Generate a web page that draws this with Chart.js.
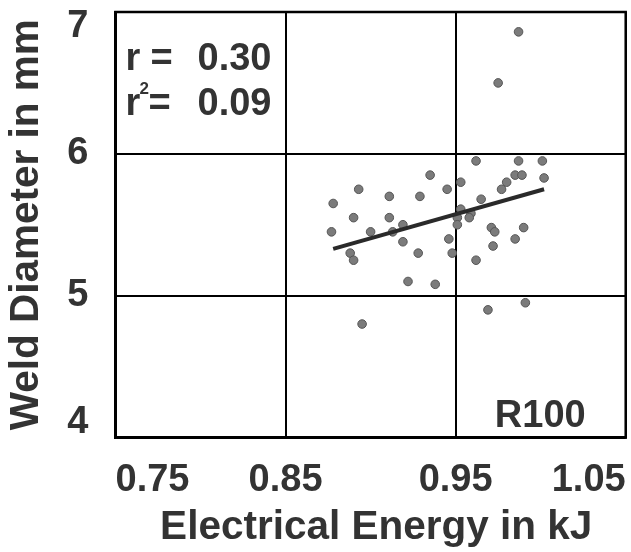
<!DOCTYPE html>
<html>
<head>
<meta charset="utf-8">
<script src="https://cdn.jsdelivr.net/npm/chart.js@4/dist/chart.umd.min.js"></script>
<style>
  html, body { margin: 0; padding: 0; background: #ffffff; }
  #wrap { width: 631px; height: 552px; }
</style>
</head>
<body>
<div id="wrap"><canvas id="c" width="631" height="552"></canvas></div>
<script>
// ---- data ----
const energy = [0.962, 0.987, 1.001, 0.935, 0.985, 0.989, 1.002, 0.953, 0.980, 0.893,
                0.945, 0.977, 0.911, 0.929, 0.878, 0.965, 0.890, 0.911, 0.953, 0.951,
                0.959, 0.958, 0.919, 0.951, 0.877, 0.900, 0.913, 0.971, 0.973, 0.990,
                0.946, 0.919, 0.985, 0.888, 0.928, 0.948, 0.972, 0.890, 0.962, 0.922,
                0.938, 0.969, 0.991, 0.895, 0.987, 0.975];
const diameter = [5.95, 5.95, 5.95, 5.85, 5.85, 5.85, 5.83, 5.80, 5.80, 5.75,
                  5.75, 5.75, 5.70, 5.70, 5.65, 5.68, 5.55, 5.55, 5.61, 5.55,
                  5.58, 5.55, 5.50, 5.50, 5.45, 5.45, 5.45, 5.48, 5.45, 5.48,
                  5.40, 5.38, 5.40, 5.30, 5.30, 5.30, 5.35, 5.25, 5.25, 5.10,
                  5.08, 4.90, 4.95, 4.80, 6.86, 6.50];
const fitX = [0.878, 1.002];
const fitY = [5.33, 5.75];
const xTicks = [0.75, 0.85, 0.95, 1.05];
const yTicks = [4, 5, 6, 7];
const xTitle = 'Electrical Energy in kJ';
const yTitle = 'Weld Diameter in mm';
const statR = '0.30';
const statR2 = '0.09';
const panelLabel = 'R100';

const TXT = '#333333';
const FONT = 'Liberation Sans, Arial, sans-serif';

const scatterPts = energy.map((x, i) => ({ x: x, y: diameter[i] }));
const fitPts = fitX.map((x, i) => ({ x: x, y: fitY[i] }));

const annot = {
  id: 'annot',
  afterDatasetsDraw(chart) {
    const ctx = chart.ctx;
    const area = chart.chartArea;
    ctx.save();
    ctx.fillStyle = TXT;
    ctx.textBaseline = 'alphabetic';
    ctx.textAlign = 'left';
    ctx.font = 'bold 38px ' + FONT;
    const x0 = area.left + 10;
    ctx.fillText('r', x0, 70);
    ctx.fillText('=', x0 + 25, 70);
    ctx.fillText(statR, x0 + 72, 70);
    ctx.fillText('r', x0, 115);
    ctx.fillText('=', x0 + 23, 115);
    ctx.fillText(statR2, x0 + 72, 115);
    ctx.font = 'bold 17px ' + FONT;
    ctx.fillText('2', x0 + 14, 94);
    ctx.font = 'bold 38px ' + FONT;
    ctx.textAlign = 'right';
    ctx.fillText(panelLabel, area.right - 40, 427);
    ctx.restore();
  }
};

new Chart(document.getElementById('c'), {
  type: 'scatter',
  data: {
    datasets: [
      {
        data: scatterPts,
        backgroundColor: '#7b7b7b',
        borderColor: '#555555',
        borderWidth: 1,
        pointRadius: 4.3,
        order: 2
      },
      {
        type: 'line',
        data: fitPts,
        borderColor: '#2a2a2a',
        borderWidth: 4,
        pointRadius: 0,
        fill: false,
        order: 1
      }
    ]
  },
  options: {
    responsive: false,
    animation: false,
    layout: { padding: { top: 12, right: 3, left: 0, bottom: 0 } },
    plugins: { legend: { display: false }, tooltip: { enabled: false } },
    scales: {
      x: {
        type: 'linear',
        min: 0.75, max: 1.05,
        afterBuildTicks(scale) { scale.ticks = xTicks.map(v => ({ value: v })); },
        afterFit(scale) {
          scale.height = 552 - 437.5;
          scale.paddingLeft = 0; scale.paddingRight = 0;
        },
        grid: { color: '#000000', lineWidth: 2, drawTicks: false },
        border: { color: '#000000', width: 2.5 },
        ticks: {
          align: 'inner',
          padding: 20,
          color: TXT,
          font: { family: FONT, size: 38, weight: 'bold' },
          callback: (v) => v.toFixed(2)
        },
        title: {
          display: true,
          text: ' ' + xTitle,
          color: TXT,
          font: { family: FONT, size: 40.5, weight: 'bold' },
          padding: { top: 2, bottom: 0 }
        }
      },
      y: {
        type: 'linear',
        min: 4, max: 7,
        afterBuildTicks(scale) { scale.ticks = yTicks.map(v => ({ value: v })); },
        afterFit(scale) {
          scale.width = 115.5;
          scale.paddingTop = 0; scale.paddingBottom = 0;
        },
        grid: { color: '#000000', lineWidth: 2, drawTicks: false },
        border: { color: '#000000', width: 2.5 },
        ticks: {
          padding: 27,
          color: TXT,
          font: { family: FONT, size: 38, weight: 'bold', lineHeight: '29px' },
          callback: (v) => {
            if (v === yTicks[yTicks.length - 1]) return ['', String(v)];
            if (v === yTicks[0]) return [String(v), ''];
            return String(v);
          }
        },
        title: {
          display: true,
          text: yTitle,
          color: TXT,
          font: { family: FONT, size: 40.5, weight: 'bold' },
          padding: { top: 3, bottom: 0 }
        }
      }
    }
  },
  plugins: [annot, {
    id: 'frame',
    afterDraw(chart) {
      const { ctx, chartArea: a } = chart;
      ctx.save();
      ctx.strokeStyle = '#000000';
      ctx.lineWidth = 2.5;
      ctx.strokeRect(a.left, a.top, a.right - a.left, a.bottom - a.top);
      ctx.restore();
    }
  }]
});
</script>
</body>
</html>
